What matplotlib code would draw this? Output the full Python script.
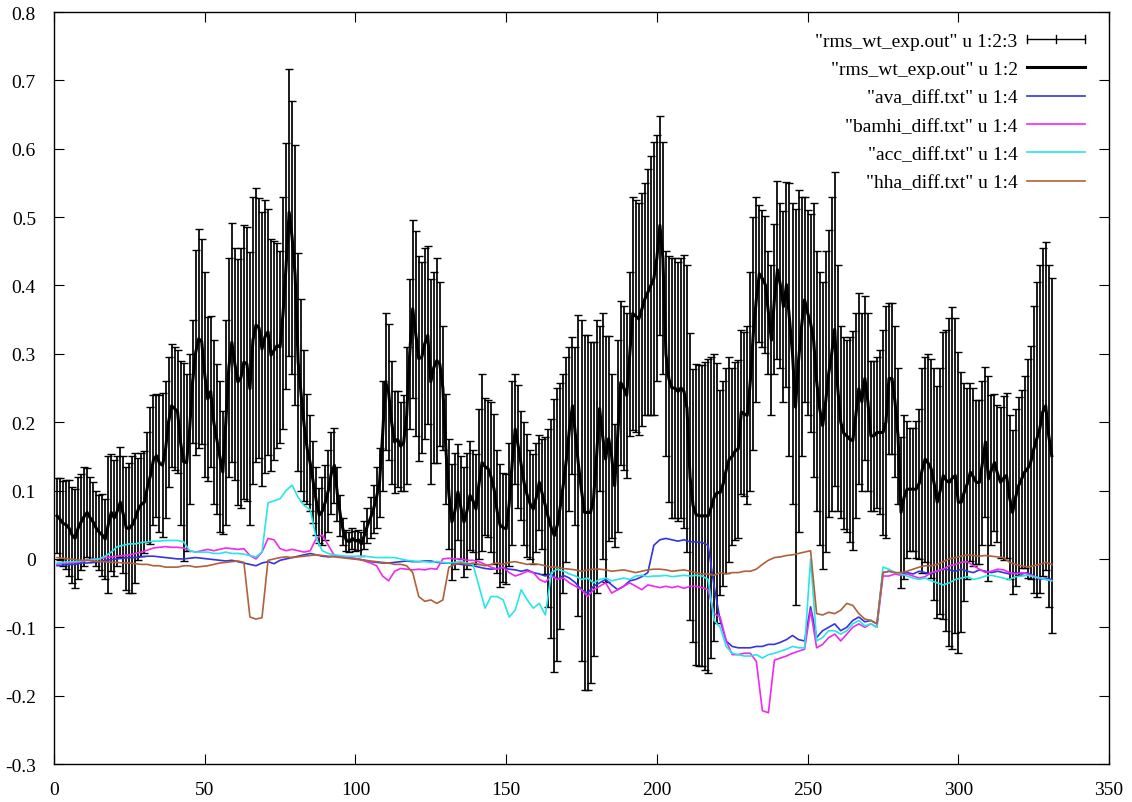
import numpy as np
import matplotlib
matplotlib.use('Agg')
import matplotlib.pyplot as plt
from matplotlib.lines import Line2D
from matplotlib.legend_handler import HandlerBase
from matplotlib.ticker import FuncFormatter, MultipleLocator

plt.rcParams['font.family'] = ['Liberation Serif', 'DejaVu Serif']
plt.rcParams['axes.unicode_minus'] = False

# rms_wt_exp.out : column 2 (value) and column 3 (error), x = 1..331
rms_val = [
    .063, .058, .052, .050, .045, .035, .030, .045, .054, .062,
    .068, .060, .054, .045, .039, .035, .029, .050, .068, .060,
    .070, .083, .065, .045, .045, .050, .060, .073, .080, .083,
    .105, .122, .145, .151, .140, .137, .160, .200, .224, .220,
    .215, .170, .142, .141, .190, .260, .302, .322, .318, .270,
    .234, .245, .200, .175, .150, .127, .200, .280, .317, .285,
    .259, .265, .288, .285, .249, .320, .342, .338, .307, .325,
    .332, .298, .305, .312, .310, .360, .429, .507, .470, .415,
    .288, .240, .195, .161, .140, .112, .085, .064, .070, .083,
    .100, .125, .137, .095, .064, .040, .027, .025, .030, .026,
    .028, .022, .035, .049, .060, .073, .090, .112, .180, .259,
    .244, .200, .171, .175, .165, .170, .210, .300, .366, .330,
    .293, .295, .315, .327, .259, .280, .290, .285, .250, .161,
    .095, .054, .070, .098, .075, .054, .070, .093, .085, .073,
    .110, .141, .135, .132, .120, .102, .070, .049, .046, .044,
    .080, .140, .190, .165, .137, .110, .093, .080, .073, .090,
    .112, .095, .078, .060, .045, .034, .050, .078, .110, .146,
    .190, .224, .180, .137, .100, .068, .068, .068, .088, .150,
    .220, .180, .146, .176, .150, .107, .180, .258, .250, .239,
    .300, .359, .355, .351, .365, .380, .390, .400, .410, .440,
    .488, .440, .300, .263, .250, .250, .245, .250, .245, .220,
    .120, .078, .065, .063, .063, .063, .063, .075, .090, .097,
    .097, .110, .130, .146, .150, .158, .161, .215, .212, .210,
    .260, .330, .380, .417, .410, .401, .360, .320, .380, .423,
    .400, .369, .401, .350, .300, .222, .290, .340, .379, .360,
    .345, .320, .260, .220, .195, .230, .271, .300, .336, .250,
    .200, .184, .180, .175, .173, .210, .249, .230, .264, .230,
    .180, .180, .185, .185, .185, .200, .264, .264, .230, .180,
    .068, .090, .102, .102, .102, .102, .110, .130, .146, .140,
    .132, .110, .083, .100, .122, .115, .112, .118, .122, .083,
    .083, .098, .110, .127, .120, .112, .112, .140, .171, .117,
    .130, .141, .125, .112, .118, .122, .090, .068, .090, .107,
    .117, .127, .132, .141, .160, .175, .190, .215, .224, .180, .151,
]
rms_err = [
    .055, .060, .062, .065, .070, .070, .072, .075, .070, .072,
    .065, .060, .058, .055, .055, .060, .058, .100, .085, .085,
    .080, .080, .085, .090, .095, .100, .095, .075, .075, .075,
    .080, .100, .095, .090, .100, .105, .100, .095, .090, .090,
    .090, .120, .145, .130, .110, .090, .150, .160, .150, .150,
    .120, .110, .120, .110, .110, .090, .150, .160, .175, .170,
    .180, .190, .200, .200, .200, .210, .200, .190, .200, .200,
    .180, .170, .160, .150, .140, .170, .180, .210, .200, .190,
    .160, .140, .110, .080, .070, .060, .050, .040, .050, .055,
    .060, .060, .055, .040, .030, .020, .015, .015, .015, .015,
    .015, .018, .020, .025, .030, .035, .045, .050, .080, .100,
    .100, .090, .075, .070, .065, .070, .100, .110, .130, .150,
    .150, .140, .140, .130, .150, .140, .150, .120, .090, .080,
    .080, .085, .085, .070, .075, .080, .085, .080, .075, .080,
    .110, .130, .100, .100, .110, .110, .090, .090, .080, .080,
    .090, .120, .080, .090, .080, .090, .090, .080, .080, .080,
    .070, .080, .100, .130, .160, .200, .200, .180, .160, .150,
    .120, .100, .130, .220, .250, .260, .260, .250, .230, .200,
    .120, .180, .180, .150, .120, .090, .140, .120, .120, .120,
    .120, .170, .170, .170, .170, .170, .180, .190, .200, .180,
    .160, .170, .150, .180, .190, .190, .190, .190, .200, .210,
    .210, .200, .220, .220, .220, .225, .230, .220, .210, .190,
    .150, .150, .150, .150, .130, .130, .130, .120, .120, .130,
    .160, .170, .150, .100, .100, .100, .090, .110, .110, .130,
    .120, .140, .150, .200, .220, .290, .250, .190, .150, .150,
    .160, .200, .190, .200, .210, .220, .210, .230, .230, .180,
    .140, .140, .140, .150, .160, .150, .140, .130, .120, .130,
    .110, .110, .110, .120, .150, .170, .110, .110, .110, .100,
    .110, .120, .100, .090, .090, .100, .110, .150, .150, .160,
    .160, .170, .170, .180, .210, .220, .240, .250, .230, .220,
    .190, .160, .140, .130, .130, .120, .120, .120, .110, .150,
    .110, .100, .100, .110, .120, .120, .120, .120, .130, .130,
    .130, .140, .160, .170, .210, .230, .240, .240, .240, .250, .260,
]
rms_x = np.arange(1, len(rms_val) + 1)

# *_diff.txt column 4, every second residue (1, 3, ..., 331)
diff_x = np.arange(1, 332, 2)
ava = [
    -.010, -.009, -.008, -.008, -.006, -.006, -.005, -.004, -.002, -.001,
    .000, .001, .002, .002, .003, .004, .004, .003, .002, .001,
    .000, .000, .001, .002, .001, .000, -.001, -.002, -.003, -.002,
    -.004, -.006, -.008, -.010, -.006, -.004, -.007, -.002, .000, .002,
    .004, .006, .008, .006, .004, .003, .004, .004, .002, .001,
    .000, -.002, -.004, -.005, -.006, -.006, -.005, -.004, -.003, -.004,
    -.004, -.003, -.003, -.005, -.006, -.006, -.007, -.008, -.009, -.010,
    -.012, -.014, -.015, -.014, -.013, -.015, -.016, -.018, -.016, -.020,
    -.022, -.025, -.022, -.030, -.024, -.028, -.035, -.045, -.050, -.040,
    -.035, -.030, -.038, -.045, -.040, -.032, -.030, -.026, -.020, .020,
    .028, .030, .028, .026, .028, .025, .025, .024, .020, -.040,
    -.090, -.120, -.128, -.130, -.130, -.130, -.128, -.128, -.125, -.125,
    -.122, -.118, -.112, -.118, -.120, -.070, -.115, -.105, -.100, -.095,
    -.105, -.100, -.090, -.085, -.092, -.090, -.095, -.020, -.018, -.020,
    -.022, -.020, -.022, -.018, -.020, -.022, -.018, -.015, -.016, -.018,
    -.015, -.018, -.020, -.016, -.018, -.020, -.018, -.020, -.022, -.020,
    -.022, -.020, -.025, -.030, -.028, -.030,
]
bamhi = [
    -.008, -.006, -.006, -.005, -.004, -.002, .000, .000, .002, .003,
    .004, .005, .006, .008, .010, .013, .016, .017, .018, .017,
    .017, .016, .012, .010, .012, .014, .012, .014, .016, .015,
    .014, .015, .005, .000, .010, .030, .028, .015, .012, .014,
    .012, .010, .012, .030, .035, .020, .005, .003, .002, .001,
    .000, -.003, -.006, -.010, -.025, -.032, -.018, -.014, -.015, -.016,
    -.015, -.016, -.014, -.015, .000, .001, .000, .000, -.002, -.002,
    -.004, -.008, -.012, -.015, -.012, -.020, -.025, -.022, -.018, -.020,
    -.030, -.034, -.025, -.030, -.028, -.035, -.040, -.045, -.055, -.045,
    -.040, -.035, -.050, -.045, -.040, -.035, -.040, -.045, -.038, -.040,
    -.042, -.040, -.042, -.040, -.043, -.040, -.040, -.042, -.045, -.080,
    -.085, -.120, -.140, -.140, -.138, -.138, -.150, -.222, -.225, -.148,
    -.145, -.142, -.138, -.135, -.132, -.075, -.130, -.125, -.115, -.110,
    -.120, -.110, -.100, -.095, -.100, -.095, -.100, -.025, -.025, -.022,
    -.024, -.022, -.025, -.028, -.026, -.020, -.018, -.015, -.010, -.008,
    -.005, -.004, -.010, -.015, -.020, -.018, -.015, -.016, -.020, -.022,
    -.020, -.022, -.025, -.028, -.030, -.032,
]
acc = [
    -.006, -.005, -.004, -.004, -.003, -.002, -.001, .000, .004, .010,
    .018, .020, .022, .022, .024, .025, .026, .026, .027, .027,
    .027, .025, .012, .010, .010, .010, .008, .008, .010, .008,
    .008, .007, .005, .003, .010, .082, .085, .088, .100, .108,
    .090, .078, .072, .030, .012, .008, .006, .005, .004, .004,
    .004, .004, .003, .002, .002, .002, .002, .000, -.002, -.003,
    -.004, -.004, -.005, -.004, -.005, -.006, -.005, -.004, -.006, -.008,
    -.040, -.072, -.055, -.055, -.060, -.085, -.075, -.045, -.060, -.072,
    -.065, -.082, -.020, -.015, -.018, -.022, -.025, -.030, -.028, -.035,
    -.030, -.028, -.032, -.030, -.028, -.030, -.025, -.024, -.026, -.025,
    -.025, -.024, -.026, -.025, -.024, -.025, -.024, -.025, -.030, -.090,
    -.100, -.128, -.138, -.140, -.142, -.142, -.140, -.145, -.140, -.138,
    -.135, -.132, -.128, -.130, -.130, .000, -.120, -.115, -.105, -.105,
    -.110, -.105, -.095, -.090, -.098, -.095, -.100, -.012, -.015, -.020,
    -.022, -.025, -.028, -.030, -.028, -.032, -.035, -.038, -.035, -.030,
    -.028, -.026, -.030, -.028, -.025, -.024, -.026, -.028, -.030, -.026,
    -.025, -.024, -.026, -.028, -.030, -.032,
]
hha = [
    .002, .001, .000, -.001, -.002, -.002, -.003, -.004, -.004, -.005,
    -.005, -.006, -.006, -.007, -.008, -.008, -.010, -.010, -.012, -.012,
    -.012, -.010, -.010, -.012, -.011, -.010, -.008, -.006, -.005, -.004,
    -.003, -.005, -.085, -.088, -.086, -.002, .000, .002, .003, .002,
    .003, .004, .005, .006, .005, .004, .003, .002, .001, .000,
    -.001, -.002, -.003, -.004, -.005, -.006, -.008, -.008, -.010, -.020,
    -.055, -.062, -.060, -.065, -.060, -.012, -.008, -.006, -.008, -.006,
    -.008, -.010, -.008, -.006, -.008, -.005, -.004, -.006, -.008, -.007,
    -.008, -.010, -.012, -.012, -.014, -.015, -.016, -.018, -.016, -.015,
    -.015, -.016, -.018, -.017, -.016, -.018, -.020, -.018, -.016, -.015,
    -.015, -.016, -.018, -.017, -.016, -.018, -.020, -.022, -.022, -.024,
    -.020, -.022, -.020, -.020, -.018, -.018, -.015, -.008, -.002, .002,
    .003, .005, .006, .008, .010, .012, -.080, -.082, -.078, -.080,
    -.075, -.065, -.068, -.080, -.088, -.090, -.095, -.020, -.018, -.020,
    -.020, -.018, -.015, -.012, -.010, -.010, -.008, -.004, .000, .002,
    .004, .006, .005, .004, .005, .004, .003, .002, -.005, -.008,
    -.010, -.012, -.010, -.008, -.005, -.008,
]

diff_series = [
    ('"ava_diff.txt" u 1:4', ava, '#3434e0'),
    ('"bamhi_diff.txt" u 1:4', bamhi, '#f028f0'),
    ('"acc_diff.txt" u 1:4', acc, '#28e6e6'),
    ('"hha_diff.txt" u 1:4', hha, '#b0603a'),
]


class BarSampleHandler(HandlerBase):
    """gnuplot-like errorbar key sample: |---+---|"""
    def create_artists(self, legend, orig_handle, xdescent, ydescent,
                       width, height, fontsize, trans):
        y = 0.5 * height - ydescent
        x0, x1 = -xdescent, width - xdescent
        xm = 0.5 * (x0 + x1)
        c = 0.32 * height
        segs = [([x0, x1], [y, y]), ([x0, x0], [y - c, y + c]),
                ([x1, x1], [y - c, y + c]), ([xm, xm], [y - c, y + c])]
        return [Line2D(xs, ys, color='black', lw=1.0, transform=trans)
                for xs, ys in segs]


fig = plt.figure(figsize=(11.32, 8.03), dpi=100)
ax = fig.add_axes([0.0477, 0.0473, 0.932, 0.9365])

ax.errorbar(rms_x, rms_val, yerr=rms_err, fmt='none', ecolor='black',
            elinewidth=1.25, capsize=2.6, capthick=1.0, zorder=2)
ax.plot(rms_x, rms_val, color='black', lw=2.2, zorder=3)
for label, vals, col in diff_series:
    ax.plot(diff_x, vals, color=col, lw=1.2, zorder=4)

ax.set_xlim(0, 350)
ax.set_ylim(-0.3, 0.8)
ax.xaxis.set_major_locator(MultipleLocator(50))
ax.yaxis.set_major_locator(MultipleLocator(0.1))
ax.yaxis.set_major_formatter(FuncFormatter(
    lambda v, p: '0' if abs(v) < 1e-9 else f'{v:.1f}'))
ax.tick_params(direction='in', length=7, width=0.8, top=True, right=True,
               labelsize=14)
ax.tick_params(axis='y', pad=13)
ax.tick_params(axis='x', pad=12)
for sp in ax.spines.values():
    sp.set_linewidth(1.0)

bar_proxy = Line2D([], [], color='black')
handles = [bar_proxy, Line2D([], [], color='black', lw=2.2)]
labels = ['"rms_wt_exp.out" u 1:2:3', '"rms_wt_exp.out" u 1:2']
for label, vals, col in diff_series:
    handles.append(Line2D([], [], color=col, lw=1.2))
    labels.append(label)

ax.legend(handles, labels, handler_map={bar_proxy: BarSampleHandler()},
          loc='upper right', bbox_to_anchor=(0.977, 0.973),
          frameon=False, markerfirst=False, fontsize=14,
          handlelength=2.95, handletextpad=0.5, labelspacing=0.55,
          borderaxespad=0, borderpad=0)

fig.savefig('out.png', dpi=100)
